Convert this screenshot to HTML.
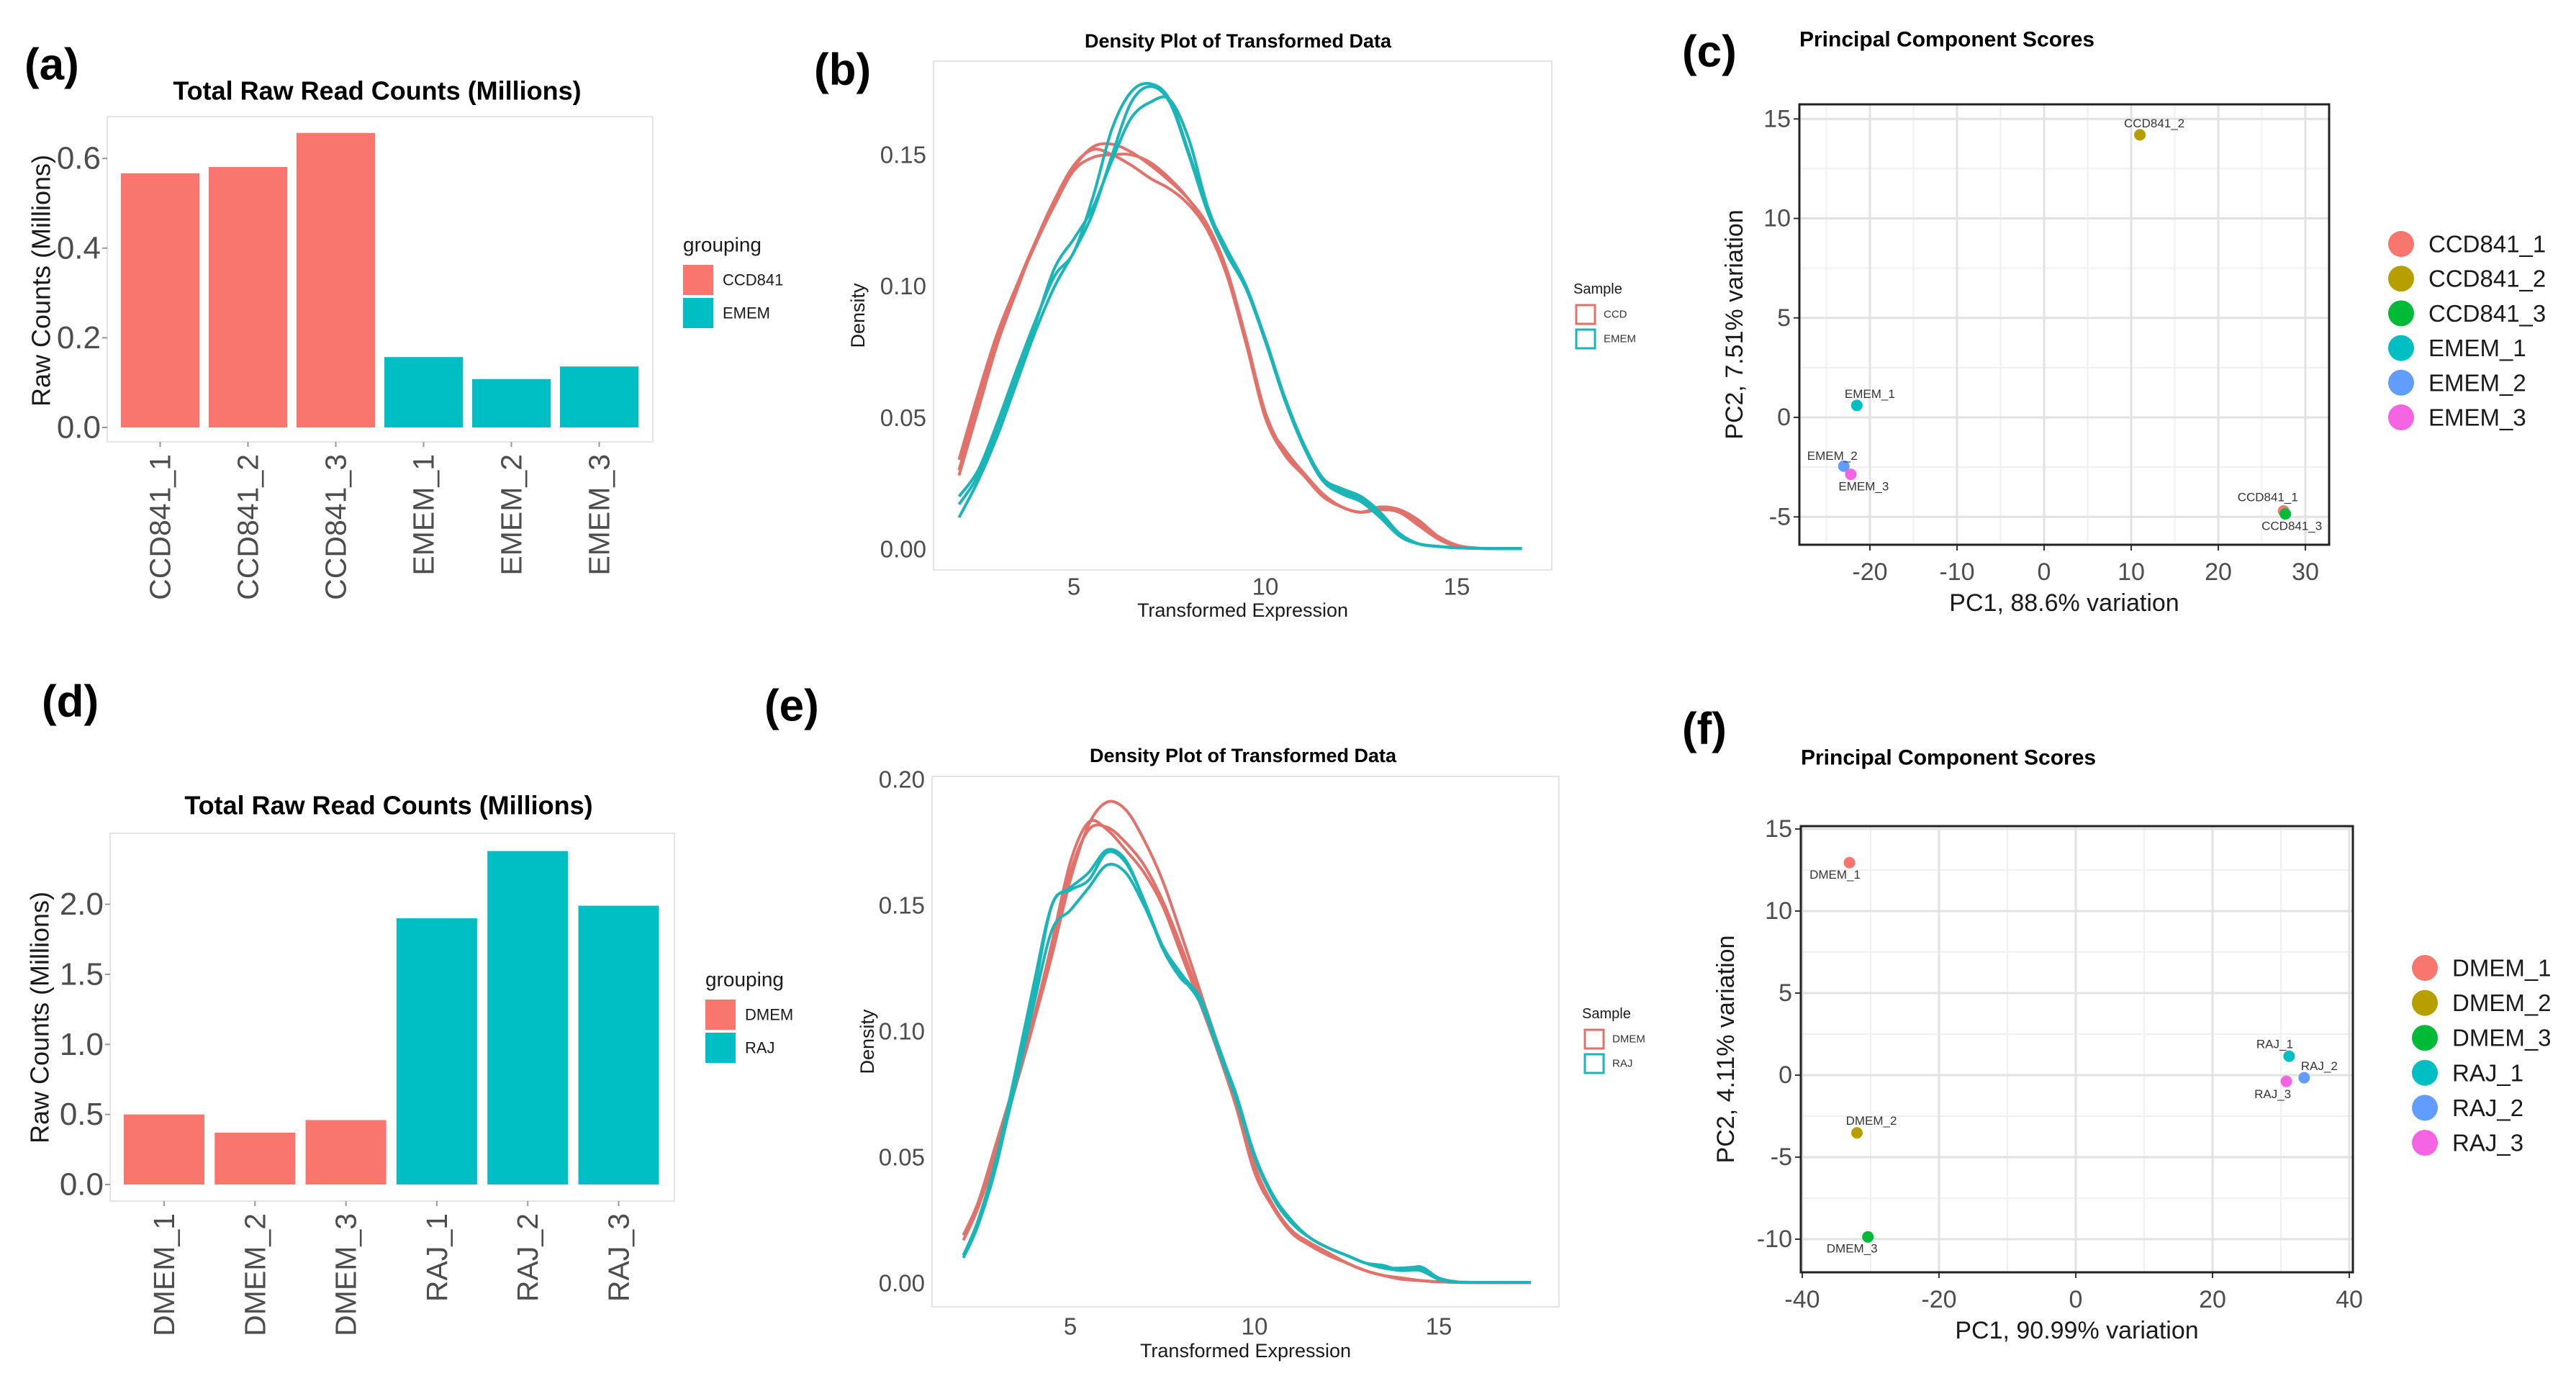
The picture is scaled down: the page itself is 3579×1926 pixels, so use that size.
<!DOCTYPE html>
<html><head><meta charset="utf-8">
<style>
html,body{margin:0;padding:0;background:#fff;}
svg{display:block;font-family:"Liberation Sans",Arial,sans-serif;}
</style></head>
<body>
<svg id="fig" xmlns="http://www.w3.org/2000/svg" width="3579" height="1926" viewBox="0 0 3579 1926">
<rect x="0" y="0" width="3579" height="1926" fill="#fff"/>
</svg>
<script>
// ---------- Data ----------
const barACats = ["CCD841_1","CCD841_2","CCD841_3","EMEM_1","EMEM_2","EMEM_3"];
const barAVals = [0.567,0.581,0.657,0.157,0.108,0.136];
const barAGroups = ["CCD841","CCD841","CCD841","EMEM","EMEM","EMEM"];
const barATicks = [0,0.2,0.4,0.6];
const barATickLabels = ["0.0","0.2","0.4","0.6"];

const barDCats = ["DMEM_1","DMEM_2","DMEM_3","RAJ_1","RAJ_2","RAJ_3"];
const barDVals = [0.50,0.37,0.46,1.90,2.38,1.99];
const barDGroups = ["DMEM","DMEM","DMEM","RAJ","RAJ","RAJ"];
const barDTicks = [0,0.5,1.0,1.5,2.0];
const barDTickLabels = ["0.0","0.5","1.0","1.5","2.0"];

const densBX = [2.0,2.5,3,3.5,4,4.5,5,5.5,6,6.5,7,7.5,8,8.5,9,9.5,10,10.5,11,11.5,12,12.5,13,13.5,14,14.5,15,15.5,16,16.7];
const densBRed1 = [0.034,0.059,0.082,0.100,0.117,0.131,0.145,0.153,0.154,0.151,0.146,0.140,0.133,0.123,0.106,0.080,0.052,0.037,0.029,0.021,0.016,0.014,0.015,0.014,0.009,0.004,0.001,0.0003,0.0002,0.0002];
const densBRed2 = [0.030,0.056,0.080,0.099,0.116,0.131,0.144,0.149,0.150,0.150,0.147,0.141,0.133,0.122,0.104,0.078,0.050,0.036,0.028,0.020,0.016,0.014,0.016,0.015,0.011,0.005,0.0015,0.0004,0.0002,0.0002];
const densBRed3 = [0.028,0.053,0.078,0.098,0.117,0.133,0.146,0.152,0.150,0.146,0.141,0.137,0.131,0.121,0.104,0.079,0.050,0.038,0.029,0.021,0.016,0.014,0.016,0.014,0.010,0.004,0.001,0.0003,0.0002,0.0002];
const densBCyan1 = [0.020,0.030,0.048,0.068,0.087,0.104,0.113,0.134,0.160,0.174,0.177,0.171,0.151,0.129,0.114,0.100,0.080,0.058,0.040,0.027,0.023,0.020,0.014,0.006,0.002,0.001,0.0005,0.0003,0.0002,0.0002];
const densBCyan2 = [0.012,0.026,0.043,0.063,0.083,0.100,0.113,0.128,0.150,0.170,0.176,0.170,0.150,0.128,0.112,0.099,0.079,0.057,0.039,0.026,0.021,0.018,0.012,0.005,0.002,0.001,0.0005,0.0003,0.0002,0.0002];
const densBCyan3 = [0.017,0.028,0.046,0.066,0.086,0.107,0.118,0.130,0.148,0.164,0.170,0.171,0.156,0.130,0.113,0.099,0.080,0.058,0.040,0.027,0.022,0.019,0.013,0.005,0.002,0.001,0.0005,0.0003,0.0002,0.0002];
const densBYTicks = [0,0.05,0.10,0.15];
const densBYLabels = ["0.00","0.05","0.10","0.15"];
const densBXTicks = [5,10,15];

const densEX = [2.1,2.5,3,3.5,4,4.5,5,5.5,6,6.5,7,7.5,8,8.5,9,9.5,10,10.5,11,11.5,12,12.5,13,13.5,14,14.5,15,15.5,16,17.5];
const densERed1 = [0.019,0.032,0.054,0.078,0.103,0.130,0.160,0.182,0.191,0.188,0.176,0.160,0.139,0.117,0.095,0.074,0.047,0.031,0.021,0.016,0.012,0.008,0.005,0.003,0.0015,0.001,0.0005,0.0003,0.0002,0.0002];
const densERed2 = [0.019,0.032,0.056,0.080,0.105,0.135,0.167,0.183,0.180,0.172,0.163,0.150,0.131,0.112,0.092,0.070,0.044,0.030,0.020,0.015,0.011,0.008,0.005,0.003,0.002,0.001,0.0005,0.0003,0.0002,0.0002];
const densERed3 = [0.017,0.030,0.052,0.077,0.103,0.133,0.163,0.180,0.181,0.175,0.166,0.152,0.134,0.114,0.094,0.072,0.046,0.031,0.021,0.016,0.012,0.008,0.005,0.003,0.002,0.001,0.0005,0.0003,0.0002,0.0002];
const densECyan1 = [0.011,0.025,0.050,0.083,0.118,0.150,0.157,0.163,0.172,0.168,0.152,0.134,0.123,0.113,0.093,0.073,0.050,0.034,0.024,0.018,0.014,0.011,0.008,0.006,0.006,0.006,0.002,0.0005,0.0003,0.0003];
const densECyan2 = [0.011,0.024,0.048,0.078,0.110,0.140,0.148,0.157,0.166,0.163,0.150,0.134,0.122,0.112,0.094,0.075,0.051,0.035,0.025,0.018,0.014,0.011,0.008,0.007,0.005,0.0065,0.002,0.0005,0.0003,0.0003];
const densECyan3 = [0.010,0.023,0.047,0.080,0.114,0.150,0.156,0.160,0.171,0.167,0.152,0.133,0.121,0.114,0.095,0.074,0.051,0.034,0.024,0.018,0.014,0.011,0.008,0.006,0.005,0.005,0.0015,0.0004,0.0003,0.0003];
const densEYTicks = [0,0.05,0.10,0.15,0.20];
const densEYLabels = ["0.00","0.05","0.10","0.15","0.20"];
const densEXTicks = [5,10,15];

const pcaCNames = ["CCD841_1","CCD841_2","CCD841_3","EMEM_1","EMEM_2","EMEM_3"];
const pcaCPC1 = [27.5,11.0,27.7,-21.5,-23.0,-22.2];
const pcaCPC2 = [-4.7,14.2,-4.85,0.6,-2.45,-2.86];
const pcaCXTicks = [-20,-10,0,10,20,30];
const pcaCYTicks = [-5,0,5,10,15];

const pcaFNames = ["DMEM_1","DMEM_2","DMEM_3","RAJ_1","RAJ_2","RAJ_3"];
const pcaFPC1 = [-33.1,-32.0,-30.4,31.2,33.4,30.8];
const pcaFPC2 = [12.95,-3.52,-9.86,1.15,-0.16,-0.38];
const pcaFXTicks = [-40,-20,0,20,40];
const pcaFYTicks = [-10,-5,0,5,10,15];

// ---------- helpers ----------
const NS = "http://www.w3.org/2000/svg";
const svg = document.getElementById("fig");
function mk(tag, attrs, parent, text) {
  const e = document.createElementNS(NS, tag);
  for (const k in attrs) e.setAttribute(k, attrs[k]);
  if (text !== undefined) e.textContent = text;
  (parent || svg).appendChild(e);
  return e;
}
function group(name) {
  const g = mk("g", {});
  
  
  return g;
}
function label(g, x, y, txt, size, opts, name) {
  const o = Object.assign({ x: x, y: y, "font-size": size, fill: "#000", "text-anchor": "start", "dominant-baseline": "central" }, opts || {});
  const t = mk("text", o, g, txt);
  
  
  return t;
}
function smoothPath(pts) {
  let d = "M" + pts[0][0].toFixed(1) + "," + pts[0][1].toFixed(1);
  for (let i = 0; i < pts.length - 1; i++) {
    const p0 = pts[Math.max(0, i - 1)], p1 = pts[i], p2 = pts[i + 1], p3 = pts[Math.min(pts.length - 1, i + 2)];
    const c1x = p1[0] + (p2[0] - p0[0]) / 6, c1y = p1[1] + (p2[1] - p0[1]) / 6;
    const c2x = p2[0] - (p3[0] - p1[0]) / 6, c2y = p2[1] - (p3[1] - p1[1]) / 6;
    d += " C" + c1x.toFixed(1) + "," + c1y.toFixed(1) + " " + c2x.toFixed(1) + "," + c2y.toFixed(1) + " " + p2[0].toFixed(1) + "," + p2[1].toFixed(1);
  }
  return d;
}
const RED = "#F8766D", CYAN = "#00BFC4";

// ---------- panel labels ----------
const panelLabels = [["(a)",34,90],["(b)",1131,97],["(c)",2337,72],["(d)",58,975],["(e)",1062,981],["(f)",2337,1013]];
panelLabels.forEach(p => {
  const t = mk("text", { x: p[1], y: p[2], "font-size": 62, "font-weight": "bold", "dominant-baseline": "central", fill: "#000" }, svg, p[0]);
  
  
});

// ---------- bar charts ----------
function barChart(cfg) {
  const g = group(cfg.name);
  const L = cfg.box[0], T = cfg.box[1], R = cfg.box[2], B = cfg.box[3];
  const yPx = v => cfg.y0 - v * cfg.ppu;
  const xC = i => cfg.c0 + i * cfg.pitch;
  const frame = mk("rect", { x: L, y: T, width: R - L, height: B - T, fill: "none", stroke: "#e4e4e4", "stroke-width": 2 }, g);
  
  
  label(g, (L + R) / 2 + cfg.titleDx, cfg.titleY, "Total Raw Read Counts (Millions)", 36, { "font-weight": "bold", "text-anchor": "middle" }, "chart-title");
  cfg.ticks.forEach((v, i) => {
    const y = yPx(v);
    const tk = mk("line", { x1: L - 7, x2: L, y1: y, y2: y, stroke: "#999", "stroke-width": 2 }, g);
    
    
    label(g, L - 9, y, cfg.tickLabels[i], 44, { "text-anchor": "end", fill: "#4d4d4d" }, "y-tick-label");
  });
  label(g, 0, 0, "Raw Counts (Millions)", 36, { "text-anchor": "middle", transform: "translate(" + cfg.yTitleX + "," + cfg.yTitleY + ") rotate(-90)", fill: "#1a1a1a" }, "y-axis-title");
  cfg.vals.forEach((v, i) => {
    const col = cfg.groups[i] === cfg.legend[0] ? RED : CYAN;
    const r = mk("rect", { x: xC(i) - cfg.bw / 2, y: yPx(v), width: cfg.bw, height: cfg.y0 - yPx(v), fill: col }, g);
    
    
    const tk = mk("line", { x1: xC(i), x2: xC(i), y1: B, y2: B + 7, stroke: "#999", "stroke-width": 2 }, g);
    
    
    label(g, 0, 0, cfg.cats[i], 41, { "text-anchor": "end", transform: "translate(" + xC(i) + "," + (B + 17) + ") rotate(-90)", fill: "#4d4d4d" }, "x-tick-label");
  });
  // legend
  label(g, cfg.legX, cfg.legY, "grouping", 28, { fill: "#1a1a1a" }, "legend-title");
  cfg.legend.forEach((name, i) => {
    const y = cfg.legY + 28 + i * 46;
    const k = mk("rect", { x: cfg.legX, y: y, width: 42, height: 42, fill: i === 0 ? RED : CYAN }, g);
    
    
    label(g, cfg.legX + 55, y + 21, name, 22, { fill: "#1a1a1a" }, "legend-label");
  });
}
barChart({ name: "bar-chart-a", cats: barACats, vals: barAVals, groups: barAGroups, ticks: barATicks, tickLabels: barATickLabels,
  box: [149, 162, 907, 614], y0: 594, ppu: 623, c0: 222.5, pitch: 122, bw: 109, titleY: 126, titleDx: -4,
  yTitleX: 57, yTitleY: 390, legX: 949, legY: 340, legend: ["CCD841", "EMEM"] });
barChart({ name: "bar-chart-d", cats: barDCats, vals: barDVals, groups: barDGroups, ticks: barDTicks, tickLabels: barDTickLabels,
  box: [153, 1158, 937, 1669], y0: 1646, ppu: 194.7, c0: 228, pitch: 126.3, bw: 112, titleY: 1119, titleDx: -5,
  yTitleX: 55, yTitleY: 1414, legX: 980, legY: 1361, legend: ["DMEM", "RAJ"] });

// ---------- density charts ----------
function densChart(cfg) {
  const g = group(cfg.name);
  const L = cfg.box[0], T = cfg.box[1], R = cfg.box[2], B = cfg.box[3];
  const xPx = v => cfg.x0 + v * cfg.xpu;
  const yPx = v => cfg.y0 - v * cfg.ypu;
  const frame = mk("rect", { x: L, y: T, width: R - L, height: B - T, fill: "none", stroke: "#e4e4e4", "stroke-width": 2 }, g);
  
  
  label(g, cfg.titleX, cfg.titleY, "Density Plot of Transformed Data", 27, { "font-weight": "bold", "text-anchor": "middle" }, "chart-title");
  cfg.yTicks.forEach((v, i) => {
    label(g, L - 10, yPx(v), cfg.yLabels[i], 33, { "text-anchor": "end", fill: "#4d4d4d" }, "y-tick-label");
  });
  cfg.xTicks.forEach(v => {
    label(g, xPx(v), cfg.xTickY, String(v), 33, { "text-anchor": "middle", fill: "#4d4d4d" }, "x-tick-label");
  });
  label(g, (L + R) / 2, cfg.xTitleY, "Transformed Expression", 27, { "text-anchor": "middle", fill: "#1a1a1a" }, "x-axis-title");
  label(g, 0, 0, "Density", 27, { "text-anchor": "middle", transform: "translate(" + cfg.yTitleX + "," + ((T + B) / 2) + ") rotate(-90)", fill: "#1a1a1a" }, "y-axis-title");
  cfg.series.forEach((s, si) => {
    const pts = cfg.xs.map((x, i) => [xPx(x), yPx(s[i])]);
    const p = mk("path", { d: smoothPath(pts), fill: "none", stroke: si < 3 ? "#E0726B" : "#1CB5B7", "stroke-width": 4, "stroke-linejoin": "round" }, g);
    
    
  });
  label(g, cfg.legX, cfg.legY, "Sample", 20, { fill: "#1a1a1a" }, "legend-title");
  cfg.legend.forEach((name, i) => {
    const y = cfg.legY + 22 + i * 34;
    const k = mk("rect", { x: cfg.legX + 4, y: y, width: 26, height: 26, fill: "#fff", stroke: i === 0 ? "#E0726B" : "#1CB5B7", "stroke-width": 3 }, g);
    
    
    label(g, cfg.legX + 42, y + 13, name, 15, { fill: "#333" }, "legend-label");
  });
}
densChart({ name: "density-chart-b", box: [1297, 85, 2156, 792], x0: 1226, xpu: 53.2, y0: 763, ypu: 3653,
  xs: densBX, series: [densBRed1, densBRed2, densBRed3, densBCyan1, densBCyan2, densBCyan3],
  yTicks: densBYTicks, yLabels: densBYLabels, xTicks: densBXTicks, titleX: 1720, titleY: 57, xTickY: 815, xTitleY: 848, yTitleX: 1192,
  legX: 2186, legY: 402, legend: ["CCD", "EMEM"] });
densChart({ name: "density-chart-e", box: [1295, 1079, 2166, 1816], x0: 1231, xpu: 51.2, y0: 1783, ypu: 3500,
  xs: densEX, series: [densERed1, densERed2, densERed3, densECyan1, densECyan2, densECyan3],
  yTicks: densEYTicks, yLabels: densEYLabels, xTicks: densEXTicks, titleX: 1727, titleY: 1050, xTickY: 1843, xTitleY: 1877, yTitleX: 1205,
  legX: 2198, legY: 1409, legend: ["DMEM", "RAJ"] });

// ---------- PCA charts ----------
const PCACOLS = ["#F8766D", "#B79F00", "#00BA38", "#00BFC4", "#619CFF", "#F564E3"];
function pcaChart(cfg) {
  const g = group(cfg.name);
  const L = cfg.box[0], T = cfg.box[1], R = cfg.box[2], B = cfg.box[3];
  const xPx = v => cfg.x0 + v * cfg.xpu;
  const yPx = v => cfg.y0 - v * cfg.ypu;
  label(g, L, cfg.titleY, "Principal Component Scores", 30, { "font-weight": "bold" }, "chart-title");
  // minor grid
  const xt = cfg.xTicks, yt = cfg.yTicks;
  const dx = xt[1] - xt[0], dy = yt[1] - yt[0];
  for (let v = xt[0] - dx / 2; v <= xt[xt.length - 1] + dx / 2; v += dx) {
    if (xPx(v) > L && xPx(v) < R) { const l = mk("line", { x1: xPx(v), x2: xPx(v), y1: T, y2: B, stroke: "#f0f0f0", "stroke-width": 2 }, g);   }
  }
  for (let v = yt[0] - dy / 2; v <= yt[yt.length - 1] + dy / 2; v += dy) {
    if (yPx(v) > T && yPx(v) < B) { const l = mk("line", { x1: L, x2: R, y1: yPx(v), y2: yPx(v), stroke: "#f0f0f0", "stroke-width": 2 }, g);   }
  }
  xt.forEach(v => {
    const l = mk("line", { x1: xPx(v), x2: xPx(v), y1: T, y2: B, stroke: "#e2e2e2", "stroke-width": 3 }, g);
    
    
    const tk = mk("line", { x1: xPx(v), x2: xPx(v), y1: B, y2: B + 8, stroke: "#333", "stroke-width": 2 }, g);
    
    
    label(g, xPx(v), B + 38, String(v), 34, { "text-anchor": "middle", fill: "#4d4d4d" }, "x-tick-label");
  });
  yt.forEach(v => {
    const l = mk("line", { x1: L, x2: R, y1: yPx(v), y2: yPx(v), stroke: "#e2e2e2", "stroke-width": 3 }, g);
    
    
    const tk = mk("line", { x1: L - 8, x2: L, y1: yPx(v), y2: yPx(v), stroke: "#333", "stroke-width": 2 }, g);
    
    
    label(g, L - 12, yPx(v), String(v), 34, { "text-anchor": "end", fill: "#4d4d4d" }, "y-tick-label");
  });
  const fr = mk("rect", { x: L, y: T, width: R - L, height: B - T, fill: "none", stroke: "#222", "stroke-width": 3 }, g);
  
  
  label(g, (L + R) / 2, cfg.xTitleY, cfg.xTitle, 34, { "text-anchor": "middle", fill: "#1a1a1a" }, "x-axis-title");
  label(g, 0, 0, cfg.yTitle, 34, { "text-anchor": "middle", transform: "translate(" + cfg.yTitleX + "," + ((T + B) / 2) + ") rotate(-90)", fill: "#1a1a1a" }, "y-axis-title");
  cfg.names.forEach((n, i) => {
    const cx = xPx(cfg.pc1[i]), cy = yPx(cfg.pc2[i]);
    const c = mk("circle", { cx: cx, cy: cy, r: 8, fill: PCACOLS[i] }, g);
    
    
    label(g, cx + cfg.offs[i][0], cy + cfg.offs[i][1], n, 17, { "text-anchor": "middle", fill: "#333" }, "point-label");
    const ly = cfg.legY + i * cfg.legPitch;
    const lc = mk("circle", { cx: cfg.legX, cy: ly, r: 18, fill: PCACOLS[i] }, g);
    
    
    label(g, cfg.legX + 38, ly, n, 33, { fill: "#1a1a1a" }, "legend-label");
  });
}
pcaChart({ name: "pca-chart-c", box: [2500, 145, 3236, 757], x0: 2840, xpu: 12.1, y0: 580, ypu: 27.65,
  names: pcaCNames, pc1: pcaCPC1, pc2: pcaCPC2, xTicks: pcaCXTicks, yTicks: pcaCYTicks,
  offs: [[-22, -19], [20, -16], [9, 17], [18, -16], [-16, -14], [18, 17]],
  titleY: 55, xTitleY: 838, xTitle: "PC1, 88.6% variation", yTitle: "PC2, 7.51% variation", yTitleX: 2410,
  legX: 3336, legY: 339, legPitch: 48.2 });
pcaChart({ name: "pca-chart-f", box: [2502, 1148, 3269, 1768], x0: 2884, xpu: 9.5, y0: 1494, ypu: 22.8,
  names: pcaFNames, pc1: pcaFPC1, pc2: pcaFPC2, xTicks: pcaFXTicks, yTicks: pcaFYTicks,
  offs: [[-20, 17], [20, -17], [-22, 16], [-20, -17], [21, -16], [-19, 18]],
  titleY: 1053, xTitleY: 1849, xTitle: "PC1, 90.99% variation", yTitle: "PC2, 4.11% variation", yTitleX: 2398,
  legX: 3369, legY: 1345, legPitch: 48.6 });
</script>
</body></html>
